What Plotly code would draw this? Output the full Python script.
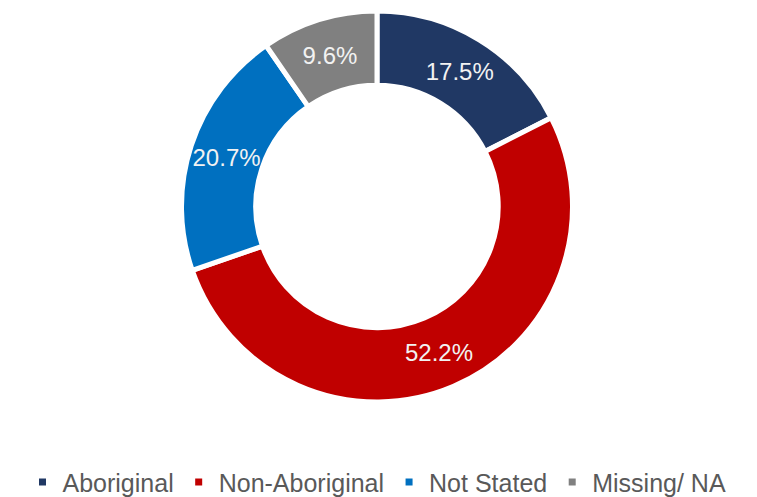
import plotly.graph_objects as go

# Share of records by Aboriginal status
categories = ["Aboriginal", "Non-Aboriginal", "Not Stated", "Missing/ NA"]
shares = [17.5, 52.2, 20.7, 9.6]
colors = ["#203864", "#C00000", "#0070C0", "#808080"]

FONT = "Liberation Sans, Arial, sans-serif"

fig = go.Figure(
    go.Pie(
        labels=categories,
        values=shares,
        text=[f"{v:.1f}%" for v in shares],
        texttemplate="%{text}",
        textposition="inside",
        insidetextorientation="horizontal",
        textfont=dict(family=FONT, size=24, color="#F2F2F2"),
        hole=0.62,
        sort=False,
        direction="clockwise",
        rotation=0,
        marker=dict(colors=colors, line=dict(color="white", width=5)),
        hoverinfo="label+percent",
    )
)

fig.update_layout(
    width=757,
    height=497,
    paper_bgcolor="white",
    plot_bgcolor="white",
    margin=dict(l=0, r=3, t=11, b=95, autoexpand=False),
    uniformtext=dict(minsize=24, mode="show"),
    showlegend=True,
    legend=dict(
        orientation="h",
        x=0.5,
        xanchor="center",
        y=-0.205,
        yanchor="middle",
        font=dict(family=FONT, size=25, color="#595959"),
        bgcolor="rgba(0,0,0,0)",
    ),
)

fig.write_html("out.html")
